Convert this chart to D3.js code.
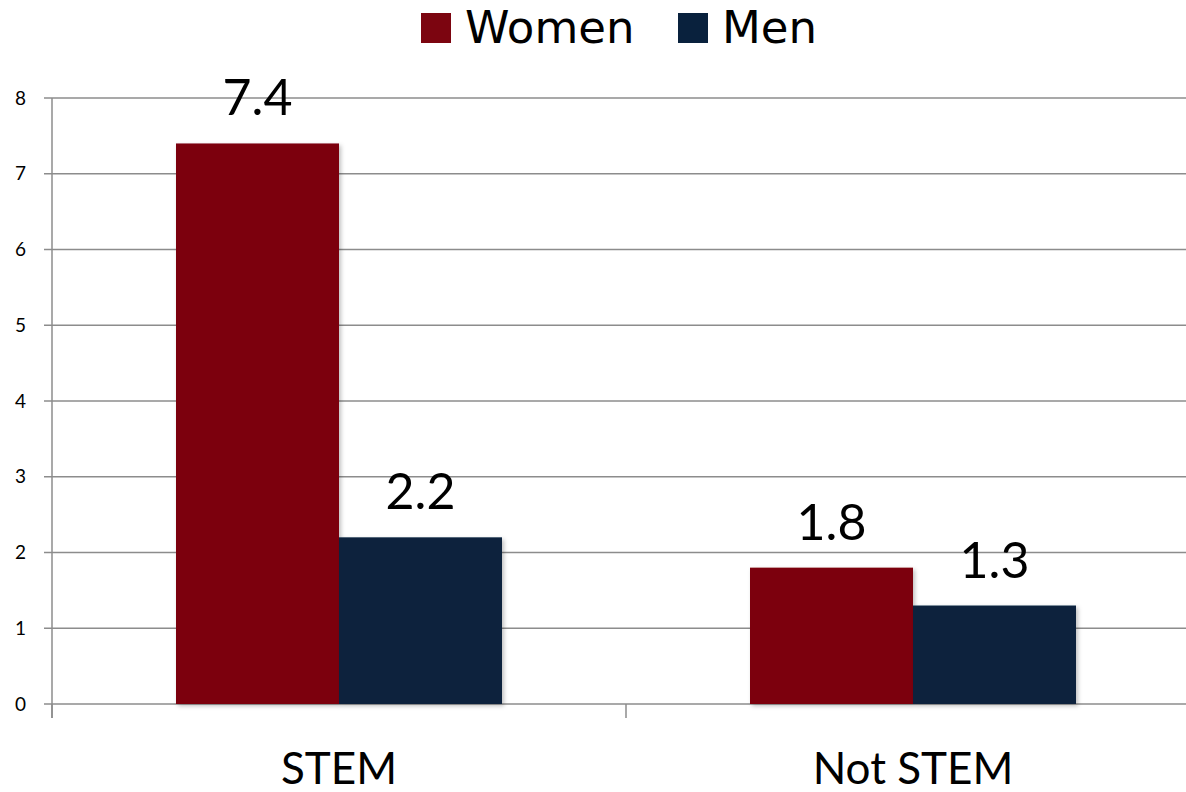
<!DOCTYPE html>
<html><head><meta charset="utf-8">
<script src="https://cdn.jsdelivr.net/npm/d3@7"></script>
<style>body{margin:0;background:#fff}svg{display:block}</style>
</head><body>
<svg id="c" width="1186" height="792"></svg>
<script>
const categories = ["STEM", "Not STEM"];
const seriesNames = ["Women", "Men"];
const women = [7.4, 1.8];
const men = [2.2, 1.3];
const yTicks = [0, 1, 2, 3, 4, 5, 6, 7, 8];
const colors = ["#7C0510", "#09213D"];
const values = [women, men];

const svg = d3.select("#c");
const pLeft = 52, pRight = 1200, pTop = 98, pBottom = 704;
const x0 = d3.scaleBand().domain(categories).range([pLeft, pRight]);
const x1 = d3.scaleBand().domain(seriesNames).range([124, x0.bandwidth() - 124]);
const y = d3.scaleLinear().domain([0, 8]).range([pBottom, pTop]);

const defs = svg.append("defs");
const f = defs.append("filter").attr("id", "sh").attr("x", "-10%").attr("y", "-10%").attr("width", "130%").attr("height", "130%");
f.append("feDropShadow").attr("dx", 2).attr("dy", 2).attr("stdDeviation", 2).attr("flood-color", "#000").attr("flood-opacity", 0.25);

// gridlines
svg.append("g").selectAll("line").data(yTicks).join("line")
  .attr("x1", pLeft - 8).attr("x2", 1186)
  .attr("y1", d => y(d)).attr("y2", d => y(d))
  .attr("stroke", "#8c8c8c").attr("stroke-width", 1.5);

// y axis line
svg.append("line").attr("x1", pLeft).attr("x2", pLeft).attr("y1", pTop).attr("y2", pBottom + 14)
  .attr("stroke", "#8c8c8c").attr("stroke-width", 1.5);
// x category ticks
svg.append("g").selectAll("line").data(categories).join("line")
  .attr("x1", d => x0(d)).attr("x2", d => x0(d))
  .attr("y1", pBottom).attr("y2", pBottom + 14)
  .attr("stroke", "#8c8c8c").attr("stroke-width", 1.5);

// y tick labels
svg.append("g").selectAll("text").data(yTicks).join("text")
  .attr("x", 26).attr("y", d => y(d)).attr("dy", "0.35em")
  .attr("text-anchor", "end")
  .attr("font-family", "Lato, 'Open Sans', sans-serif").attr("font-size", 19).attr("fill", "#000")
  .text(d => d);

// bars
const g = svg.append("g");
seriesNames.forEach((s, si) => {
  g.append("g").selectAll("rect").data(categories).join("rect")
    .attr("x", d => x0(d) + x1(s))
    .attr("width", x1.bandwidth())
    .attr("y", (d, i) => y(values[si][i]))
    .attr("height", (d, i) => y(0) - y(values[si][i]))
    .attr("fill", colors[si])
    .attr("filter", "url(#sh)");
});
// value labels
seriesNames.forEach((s, si) => {
  svg.append("g").selectAll("text").data(categories).join("text")
    .attr("x", d => x0(d) + x1(s) + x1.bandwidth() / 2)
    .attr("y", (d, i) => y(values[si][i]) - 28)
    .attr("text-anchor", "middle")
    .attr("font-family", "Lato, 'Open Sans', sans-serif").attr("font-size", 50).attr("fill", "#000")
    .text((d, i) => values[si][i].toFixed(1));
});

// category labels
svg.append("g").selectAll("text").data(categories).join("text")
  .attr("x", d => x0(d) + x0.bandwidth() / 2)
  .attr("y", 784)
  .attr("text-anchor", "middle")
  .attr("font-family", "Lato, 'Open Sans', sans-serif").attr("font-size", 44).attr("fill", "#000")
  .text(d => d);

// legend
const legX = [421, 678];
seriesNames.forEach((s, si) => {
  svg.append("rect").attr("x", legX[si]).attr("y", 13).attr("width", 30).attr("height", 30).attr("fill", colors[si]);
  svg.append("text").attr("x", legX[si] + 44).attr("y", 43)
    .attr("font-family", "'DejaVu Sans', sans-serif").attr("font-size", 45).attr("fill", "#000")
    .text(s);
});
</script>
</body></html>
